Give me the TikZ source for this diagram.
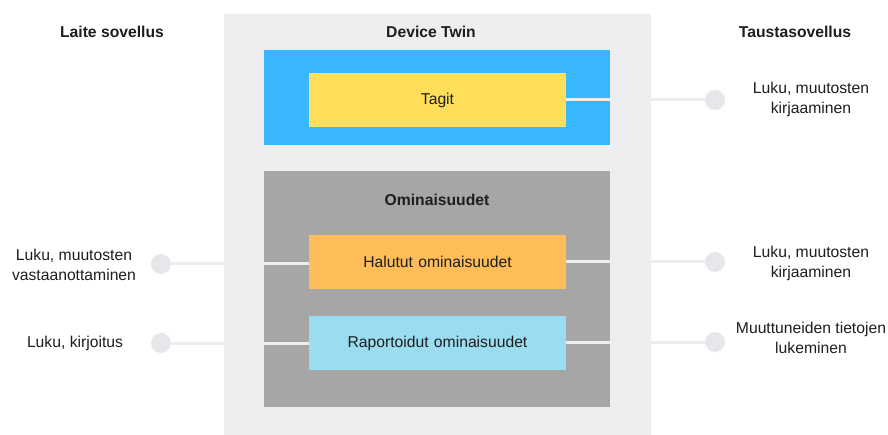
\documentclass[tikz,border=0pt]{standalone}
\usepackage{fontspec}
\setmainfont{Liberation Sans}
\definecolor{panel}{HTML}{EDEEF0}
\definecolor{dotgray}{HTML}{E6E7EA}
\definecolor{skyblue}{HTML}{38B6FF}
\definecolor{tagyellow}{HTML}{FFDE59}
\definecolor{propgray}{HTML}{A6A6A6}
\definecolor{wantorange}{HTML}{FFBD59}
\definecolor{reportblue}{HTML}{9ADCF0}
\definecolor{ink}{HTML}{1E1E1E}
\begin{document}
\begin{tikzpicture}[x=1pt,y=-1pt,
  txt/.style={font=\fontsize{15.7}{20}\selectfont, text=ink, align=center, inner sep=0pt},
  head/.style={txt, font=\fontsize{15.7}{20}\selectfont\bfseries},
  area/.style={draw=none, inner sep=0pt, anchor=north west},
  item/.style={area, txt, text width=257pt, minimum width=257pt, minimum height=54pt, anchor=center},
  dot/.style={circle, fill=dotgray, draw=none, minimum size=20pt, inner sep=0pt},
  link/.style={draw=panel, line width=3pt}]
  % canvas
  \fill[white] (0,0) rectangle (888,435);
  \useasboundingbox (0,0) rectangle (888,435);
  % Device Twin panel and its two groups
  \node[area, fill=panel, minimum width=427pt, minimum height=422pt] (twin) at (224,14) {};
  \node[area, fill=skyblue, minimum width=346pt, minimum height=95pt] (tags) at (264,50) {};
  \node[area, fill=propgray, minimum width=346pt, minimum height=236pt] (props) at (264,171) {};
  % entries
  \node[item, fill=tagyellow] (tagit) at (437.5,100) {Tagit};
  \node[item, fill=wantorange] (desired) at (437.5,262) {Halutut ominaisuudet};
  \node[item, fill=reportblue] (reported) at (437.5,343) {Raportoidut ominaisuudet};
  % headings
  \node[head] (hleft) at (112,32) {Laite sovellus};
  \node[head] (htwin) at (431,32) {Device Twin};
  \node[head] (hright) at (795,32) {Taustasovellus};
  \node[head] (hprops) at (437,200) {Ominaisuudet};
  % endpoints
  \node[dot] (rt) at (715,100) {};
  \node[dot] (rm) at (715,262) {};
  \node[dot] (rb) at (715,342) {};
  \node[dot] (lm) at (161,264) {};
  \node[dot] (lb) at (161,343) {};
  % connectors
  \draw[link] (rt) -- (rt -| tagit.east);
  \draw[link] (rm) -- (rm -| desired.east);
  \draw[link] (rb) -- (rb -| reported.east);
  \draw[link] (lm) -- (lm -| desired.west);
  \draw[link] (lb) -- (lb -| reported.west);
  % endpoint labels
  \node[txt] (trt) at (811,99) {Luku, muutosten\\kirjaaminen};
  \node[txt] (trm) at (811,263) {Luku, muutosten\\kirjaaminen};
  \node[txt] (trb) at (811,338) {Muuttuneiden tietojen\\lukeminen};
  \node[txt] (tlm) at (74,265) {Luku, muutosten\\vastaanottaminen};
  \node[txt] (tlb) at (75,343) {Luku, kirjoitus};
\end{tikzpicture}
\end{document}
